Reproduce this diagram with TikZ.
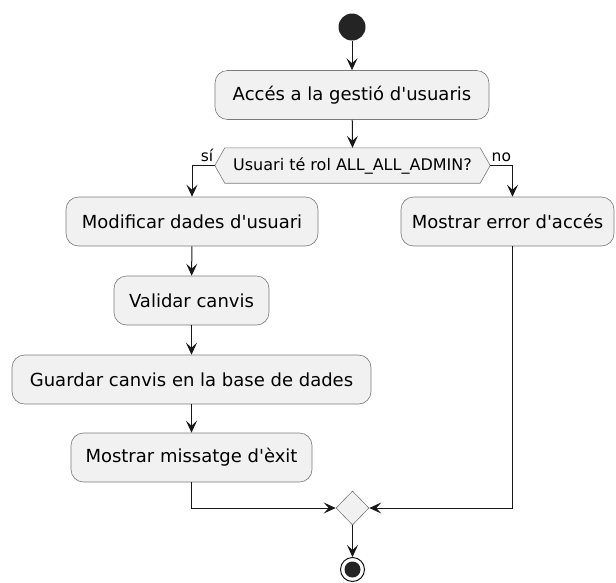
\documentclass[tikz,border=0pt]{standalone}
\usepackage{fontspec}
\setmainfont{DejaVu Sans}[Ligatures=TeXOff]
\usetikzlibrary{arrows.meta,shapes.geometric}
\definecolor{umlfill}{HTML}{F1F1F1}
\definecolor{umlline}{HTML}{181818}
\definecolor{umlborder}{HTML}{7A7A7A}
\begin{document}
\begin{tikzpicture}[x=1pt,y=-1pt,
  act/.style={draw=umlborder,fill=umlfill,rounded corners=12.5pt,line width=0.6pt,
    minimum height=49pt,inner sep=0pt,font=\fontsize{18}{20}\selectfont},
  flow/.style={draw=umlline,line width=1pt,-{Stealth[length=12pt,width=11pt,inset=5pt]}},
  lbl/.style={font=\fontsize{15.5}{18}\selectfont,inner sep=0pt}]
\useasboundingbox (0,0) rectangle (616,582);
% start
\node[circle,fill=umlline!95!white,minimum size=27pt,inner sep=0pt] (start) at (352,27) {};
\node[act,minimum width=274pt] (acc) at (352,95) {Accés a la gestió d'usuaris};
% decision hexagon
\node[inner sep=0pt,minimum width=275pt,minimum height=35pt] (dec) at (352.5,165.5) {};
\draw[draw=umlborder,fill=umlfill,line width=0.6pt] (dec.west) -- ([xshift=10pt]dec.north west) -- ([xshift=-10pt]dec.north east) -- (dec.east) -- ([xshift=-10pt]dec.south east) -- ([xshift=10pt]dec.south west) -- cycle;
\node[inner sep=0pt,font=\fontsize{16}{18}\selectfont] (dectext) at (dec) {Usuari té rol ALL\_ALL\_ADMIN?};
% left branch
\node[act,minimum width=252pt] (mod) at (192,221.5) {Modificar dades d'usuari};
\node[act,minimum width=155pt] (val) at (191.5,300.5) {Validar canvis};
\node[act,minimum width=359pt] (gua) at (191.5,379.5) {Guardar canvis en la base de dades};
\node[act,minimum width=241pt] (msg) at (191.5,457.5) {Mostrar missatge d'èxit};
% right branch
\node[act,minimum width=213pt] (err) at (507.5,221.5) {Mostrar error d'accés};
% merge
\node[diamond,draw=umlborder,fill=umlfill,line width=0.6pt,minimum width=33pt,minimum height=34pt,inner sep=0pt] (mrg) at (352.5,508) {};
% end
\node[circle,draw=umlline,line width=1pt,fill=white,minimum size=24pt,inner sep=0pt] (end) at (352.5,569.5) {};
\node[circle,fill=umlline!95!white,minimum size=16pt,inner sep=0pt] (endin) at (end) {};
% connectors
\draw[flow] (start) -- (acc);
\draw[flow] (acc) -- (dec.north);
\coordinate (lc) at (192,165.5);
\coordinate (rc) at (512.5,165.5);
\draw[flow] (dec.west) -- (lc) -- (mod.north -| lc);
\draw[flow] (dec.east) -- (rc) -- (err.north -| rc);
\node[lbl,anchor=base east] (si) at (213.5,161) {sí};
\node[lbl,anchor=base west] (no) at (491.5,161) {no};
\draw[flow] (mod) -- (val);
\draw[flow] (val) -- (gua);
\draw[flow] (gua) -- (msg);
\coordinate (ml) at (191.5,508);
\coordinate (mr) at (512.5,508);
\draw[flow] (msg.south) -- (ml) -- (mrg.west);
\draw[flow] (err.south -| mr) -- (mr) -- (mrg.east);
\draw[flow] (mrg.south) -- (end.north);
\end{tikzpicture}
\end{document}
